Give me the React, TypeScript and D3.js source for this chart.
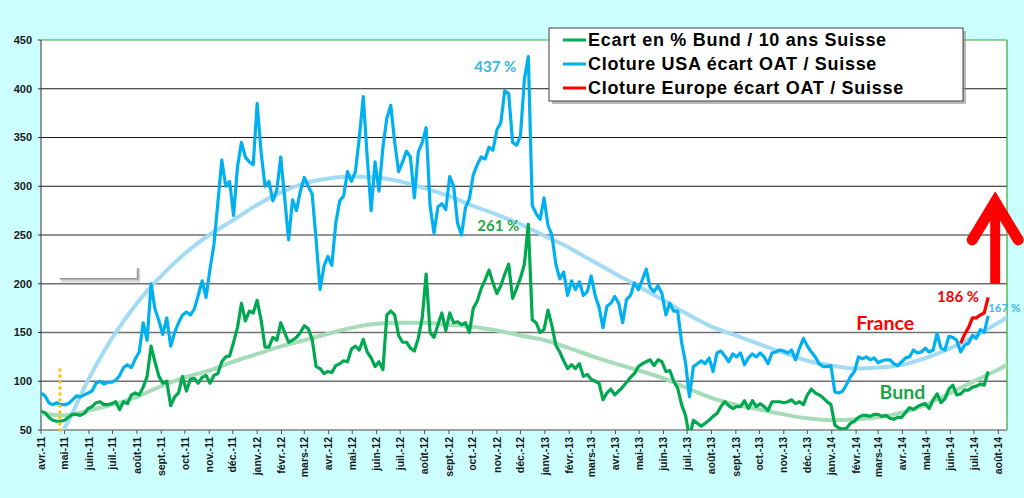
import React from 'react';
import * as d3 from 'd3';

// fixed 5-day sampling of the daily quotes
const firstDay = new Date(2011, 3, 1);
const lastDay = new Date(2014, 7, 12);
const stepDays = 5;

const frMonths = ['janv.', 'févr.', 'mars', 'avr.', 'mai', 'juin', 'juil.', 'août', 'sept.', 'oct.', 'nov.', 'déc.'];
const yTicks = [50, 100, 150, 200, 250, 300, 350, 400, 450];

// Cloture USA écart OAT / Suisse (%)
const usaSpread = [
  88, 85, 78, 76, 78, 76, 76, 77, 81, 85,
  84, 86, 88, 90, 98, 100, 97, 99, 99, 101,
  106, 114, 117, 114, 123, 130, 160, 142, 200, 174,
  162, 148, 165, 136, 150, 160, 168, 171, 168, 174,
  188, 203, 186, 215, 240, 283, 327, 300, 305, 270,
  320, 345, 330, 325, 322, 385, 335, 300, 305, 285,
  296, 330, 288, 245, 286, 275, 295, 309, 300, 292,
  245, 194, 218, 228, 219, 262, 285, 290, 315, 305,
  315, 350, 392, 330, 275, 325, 295, 340, 370, 383,
  345, 315, 325, 336, 330, 288, 335, 345, 360, 280,
  252, 279, 282, 276, 310, 300, 262, 250, 278, 287,
  312, 322, 330, 328, 340, 337, 358, 365, 398, 395,
  345, 342, 352, 410, 433, 280, 272, 266, 288, 260,
  250, 220, 205, 212, 188, 203, 194, 202, 188, 192,
  208, 188, 176, 155, 177, 180, 187, 180, 160, 184,
  188, 201, 194, 204, 215, 196, 192, 198, 190, 168,
  180, 172, 172, 140, 119, 84, 115, 118, 121, 118,
  124, 110, 129, 131, 126, 120, 128, 125, 129, 117,
  124, 128, 125, 129, 125, 118, 129, 130, 132, 131,
  129, 132, 122, 134, 144, 136, 130, 125, 118, 115,
  115, 116, 89, 88, 90, 97, 105, 110, 125, 123,
  125, 122, 124, 119, 121, 122, 122, 118, 116, 120,
  124, 125, 132, 129, 130, 134, 130, 132, 149, 134,
  132, 146, 145, 142, 130, 137, 139, 147, 144, 153,
  150, 167,
];

// Ecart en % Bund / 10 ans Suisse
const bundSpread = [
  69, 68, 63, 60, 59, 59, 60, 63, 66, 66,
  65, 67, 72, 74, 78, 79, 76, 76, 77, 79,
  71, 79, 77, 86, 88, 86, 94, 105, 136, 120,
  105, 98, 100, 75, 84, 88, 105, 90, 102, 103,
  98, 104, 106, 98, 106, 108, 120, 125, 126, 140,
  155, 180, 162, 172, 170, 183, 163, 135, 135, 145,
  142, 160, 150, 140, 142, 145, 150, 157, 154, 143,
  115, 113, 108, 110, 109, 116, 118, 121, 120, 133,
  136, 132, 143, 130, 124, 115, 120, 112, 168, 172,
  168, 147, 140, 140, 134, 131, 144, 165, 210, 150,
  145, 158, 170, 152, 170, 160, 161, 158, 160, 150,
  175, 182, 195, 204, 214, 201, 190, 198, 210, 220,
  185, 195, 206, 220, 261, 163, 160, 150, 153, 173,
  157, 137, 130, 121, 113, 117, 113, 118, 105, 107,
  102, 100, 98, 81, 88, 92, 86, 90, 94, 99,
  104, 108, 115, 118, 120, 122, 116, 122, 120, 110,
  111, 100, 93, 76, 65, 42, 60, 57, 54, 57,
  60, 64, 67, 74, 79, 75, 72, 74, 74, 80,
  72, 80, 74, 77, 74, 70, 79, 79, 79, 78,
  79, 81, 77, 79, 76, 86, 92, 88, 86, 83,
  79, 76, 55, 52, 51, 52, 57, 59, 63, 65,
  65, 64, 66, 66, 64, 65, 62, 61, 63, 63,
  68, 73, 71, 74, 76, 77, 72, 81, 87, 78,
  82, 92, 96, 86, 87, 91, 91, 94, 95, 97,
  96, 110,
];

// Cloture Europe écart OAT / Suisse, from mid-June 2014
const europeFirstDay = new Date(2014, 5, 14);
const europeSpread = [139, 148, 155, 165, 165, 168, 170, 186];

// polynomial trend lines, read month by month (avr.-11 .. sept.-14)
const usaTrend = [
  20, 52, 103, 145, 180, 208, 231, 250, 265, 281,
  294, 303, 308, 310, 309, 305, 298, 290, 280, 271,
  261, 249, 237, 224, 210, 197, 183, 169, 156, 147,
  138, 129, 121, 116, 113, 114, 117, 124, 134, 146,
  160, 176,
];
const bundTrend = [
  67, 65, 70, 76, 84, 95, 104, 111, 120, 128,
  136, 142, 149, 155, 159, 160, 160, 158, 156, 152,
  147, 142, 134, 126, 118, 111, 103, 93, 83, 76,
  71, 66, 62, 60, 61, 63, 68, 76, 88, 100,
  112, 126,
];

const legendItems = [
  { label: 'Ecart en % Bund / 10 ans Suisse', color: '#00B050' },
  { label: 'Cloture USA écart OAT / Suisse', color: '#00B0F0' },
  { label: 'Cloture Europe écart OAT / Suisse', color: '#FF0000' },
];

type Pt = { date: Date; value: number };

const App: React.FC = () => {
  const width = 1024;
  const height = 498;
  const margin = { top: 40, right: 17, bottom: 68, left: 41 };
  const plotRight = width - margin.right;
  const plotBottom = height - margin.bottom;

  const x = d3.scaleTime().domain([firstDay, lastDay]).range([margin.left, plotRight]);
  const y = d3.scaleLinear().domain([50, 450]).range([plotBottom, margin.top]);

  const daily = (vals: number[], start: Date): Pt[] =>
    vals.map((v, i) => ({ date: d3.timeDay.offset(start, i * stepDays), value: v }));
  const monthly = (vals: number[]): Pt[] =>
    vals.map((v, i) => ({ date: d3.timeMonth.offset(firstDay, i), value: v }));

  const usa = daily(usaSpread, firstDay);
  const bund = daily(bundSpread, firstDay);
  const europe = daily(europeSpread, europeFirstDay);

  const line = d3.line<Pt>().x(d => x(d.date)).y(d => y(d.value));
  const smooth = d3.line<Pt>().x(d => x(d.date)).y(d => y(d.value)).curve(d3.curveMonotoneX);

  const months = d3.timeMonth.range(firstDay, d3.timeDay.offset(lastDay, 1));
  const monthLabel = (d: Date) => `${frMonths[d.getMonth()]}-${String(d.getFullYear()).slice(2)}`;

  const usaPeak = usa[d3.maxIndex(usa, d => d.value)];
  const bundPeak = bund[d3.maxIndex(bund, d => d.value)];
  const usaLast = usa[usa.length - 1];
  const europeLast = europe[europe.length - 1];

  const arrowX = x(new Date(2014, 6, 28));
  const markerX = x(new Date(2011, 3, 25));
  const bracketEnd = x(new Date(2011, 7, 2));

  const axisFont = "'Liberation Sans', Arial, sans-serif";
  const noteFont = "Lato, 'Open Sans', sans-serif";

  return (
    <svg width={width} height={height} style={{ position: 'absolute', left: 0, top: 0, display: 'block' }}>
      <defs>
        <clipPath id="plot-clip">
          <rect x={margin.left} y={margin.top} width={plotRight - margin.left} height={plotBottom - margin.top} />
        </clipPath>
      </defs>
      <rect width={width} height={height} fill="#CCFFFF" />
      <rect x={margin.left} y={margin.top} width={plotRight - margin.left} height={plotBottom - margin.top} fill="#fff" />

      {/* gridlines */}
      {yTicks.filter(t => t > 50 && t < 450).map(t => (
        <line key={t} x1={margin.left} x2={plotRight} y1={y(t)} y2={y(t)}
          stroke={t >= 300 ? '#1a1a1a' : '#707070'} strokeWidth={t >= 300 ? 1 : 1.5} />
      ))}
      {/* plot border top / right */}
      <line x1={margin.left} x2={plotRight} y1={y(450)} y2={y(450)} stroke="#33AA33" strokeWidth={1.2} />
      <line x1={plotRight} x2={plotRight} y1={margin.top} y2={plotBottom} stroke="#33AA33" strokeWidth={1.2} />

      {/* axes */}
      <line x1={margin.left} x2={margin.left} y1={margin.top} y2={plotBottom} stroke="#333" strokeWidth={1} />
      <line x1={margin.left} x2={plotRight} y1={plotBottom} y2={plotBottom} stroke="#808080" strokeWidth={1.5} />
      {yTicks.map(t => (
        <g key={t}>
          <line x1={margin.left - 3} x2={margin.left} y1={y(t)} y2={y(t)} stroke="#333" />
          <text x={32} y={y(t)} dy="0.35em" textAnchor="end" fontFamily={axisFont} fontWeight="bold"
            fontSize={11} fill="#1a1a1a">{t}</text>
        </g>
      ))}
      {months.map(m => (
        <g key={m.getTime()}>
          <line x1={x(m)} x2={x(m)} y1={plotBottom} y2={plotBottom + 4} stroke="#555" />
          <text transform={`translate(${x(m)},${plotBottom + 7}) rotate(-90)`} dy="0.35em" textAnchor="end"
            fontFamily={axisFont} fontWeight="bold" fontSize={10.5} fill="#1a1a1a">{monthLabel(m)}</text>
        </g>
      ))}

      <g clipPath="url(#plot-clip)">
        <path d={smooth(monthly(usaTrend)) ?? ''} fill="none" stroke="#A3DBF4" strokeWidth={4} />
        <path d={smooth(monthly(bundTrend)) ?? ''} fill="none" stroke="#A6DDB8" strokeWidth={4} />
        <path d={line(bund) ?? ''} fill="none" stroke="#00A94F" strokeWidth={3.2} strokeLinejoin="round" />
        <path d={line(usa) ?? ''} fill="none" stroke="#00B0F0" strokeWidth={3.2} strokeLinejoin="round" />
        <path d={line(europe) ?? ''} fill="none" stroke="#FF0000" strokeWidth={3.2} strokeLinejoin="round" />
      </g>

      {/* orange dotted marker */}
      <line x1={markerX} x2={markerX} y1={y(113)} y2={plotBottom + 5} stroke="#FFC000" strokeWidth={3}
        strokeDasharray="3,3" />
      {/* stray grey bracket */}
      <path d={`M${markerX + 1},${y(204) + 1.5} H${bracketEnd + 1.5} V${y(216)}`} fill="none" stroke="#d0d0d0" strokeWidth={2} />
      <path d={`M${markerX},${y(205)} H${bracketEnd} V${y(216)}`} fill="none" stroke="#9a9a9a" strokeWidth={1.8} />

      {/* red arrow */}
      <line x1={arrowX} x2={arrowX} y1={y(200)} y2={y(284)} stroke="#FF0000" strokeWidth={10} />
      <polyline points={`${arrowX - 23},${y(245)} ${arrowX},${y(284)} ${arrowX + 23},${y(245)}`}
        fill="none" stroke="#FF0000" strokeWidth={11} strokeLinecap="round" strokeLinejoin="miter" />

      {/* annotations */}
      <text x={x(usaPeak.date) - 33} y={y(usaPeak.value) + 15} textAnchor="middle" fontFamily={noteFont}
        fontWeight="bold" fontSize={15} fill="#33B5E9">437 %</text>
      <text x={x(bundPeak.date) - 30} y={y(bundPeak.value) + 7} textAnchor="middle" fontFamily={noteFont}
        fontWeight="bold" fontSize={15} fill="#22A846">261 %</text>
      <text x={x(europeLast.date) - 30} y={y(europeLast.value) + 5} textAnchor="middle" fontFamily={noteFont}
        fontWeight="bold" fontSize={15} fill="#FF0000">186 %</text>
      <text x={x(usaLast.date)} y={y(usaLast.value) - 4} fontFamily={noteFont}
        fontWeight="bold" fontSize={11.5} fill="#3AB7EA">167 %</text>
      <text x={x(new Date(2014, 2, 10))} y={y(153)} textAnchor="middle" fontFamily={noteFont}
        fontWeight="bold" fontSize={19.5} fill="#FF0000">France</text>
      <text x={x(new Date(2014, 3, 1))} y={y(82)} textAnchor="middle" fontFamily={noteFont}
        fontWeight="bold" fontSize={19.5} fill="#1EA34A">Bund</text>

      {/* legend */}
      <g transform="translate(549,28)">
        <rect x={3} y={3} width={414} height={73} fill="#8a8a8a" opacity={0.6} />
        <rect width={414} height={73} fill="#fff" stroke="#404040" strokeWidth={1} />
        {legendItems.map((item, i) => (
          <g key={item.label} transform={`translate(0,${12 + i * 24})`}>
            <line x1={14} x2={37} y1={0} y2={0} stroke={item.color} strokeWidth={3} />
            <text x={39} y={0} dy="0.36em" fontFamily={axisFont} fontWeight="bold" fontSize={18}
              letterSpacing={0.7} fill="#000">{item.label}</text>
          </g>
        ))}
      </g>
    </svg>
  );
};

export default App;
